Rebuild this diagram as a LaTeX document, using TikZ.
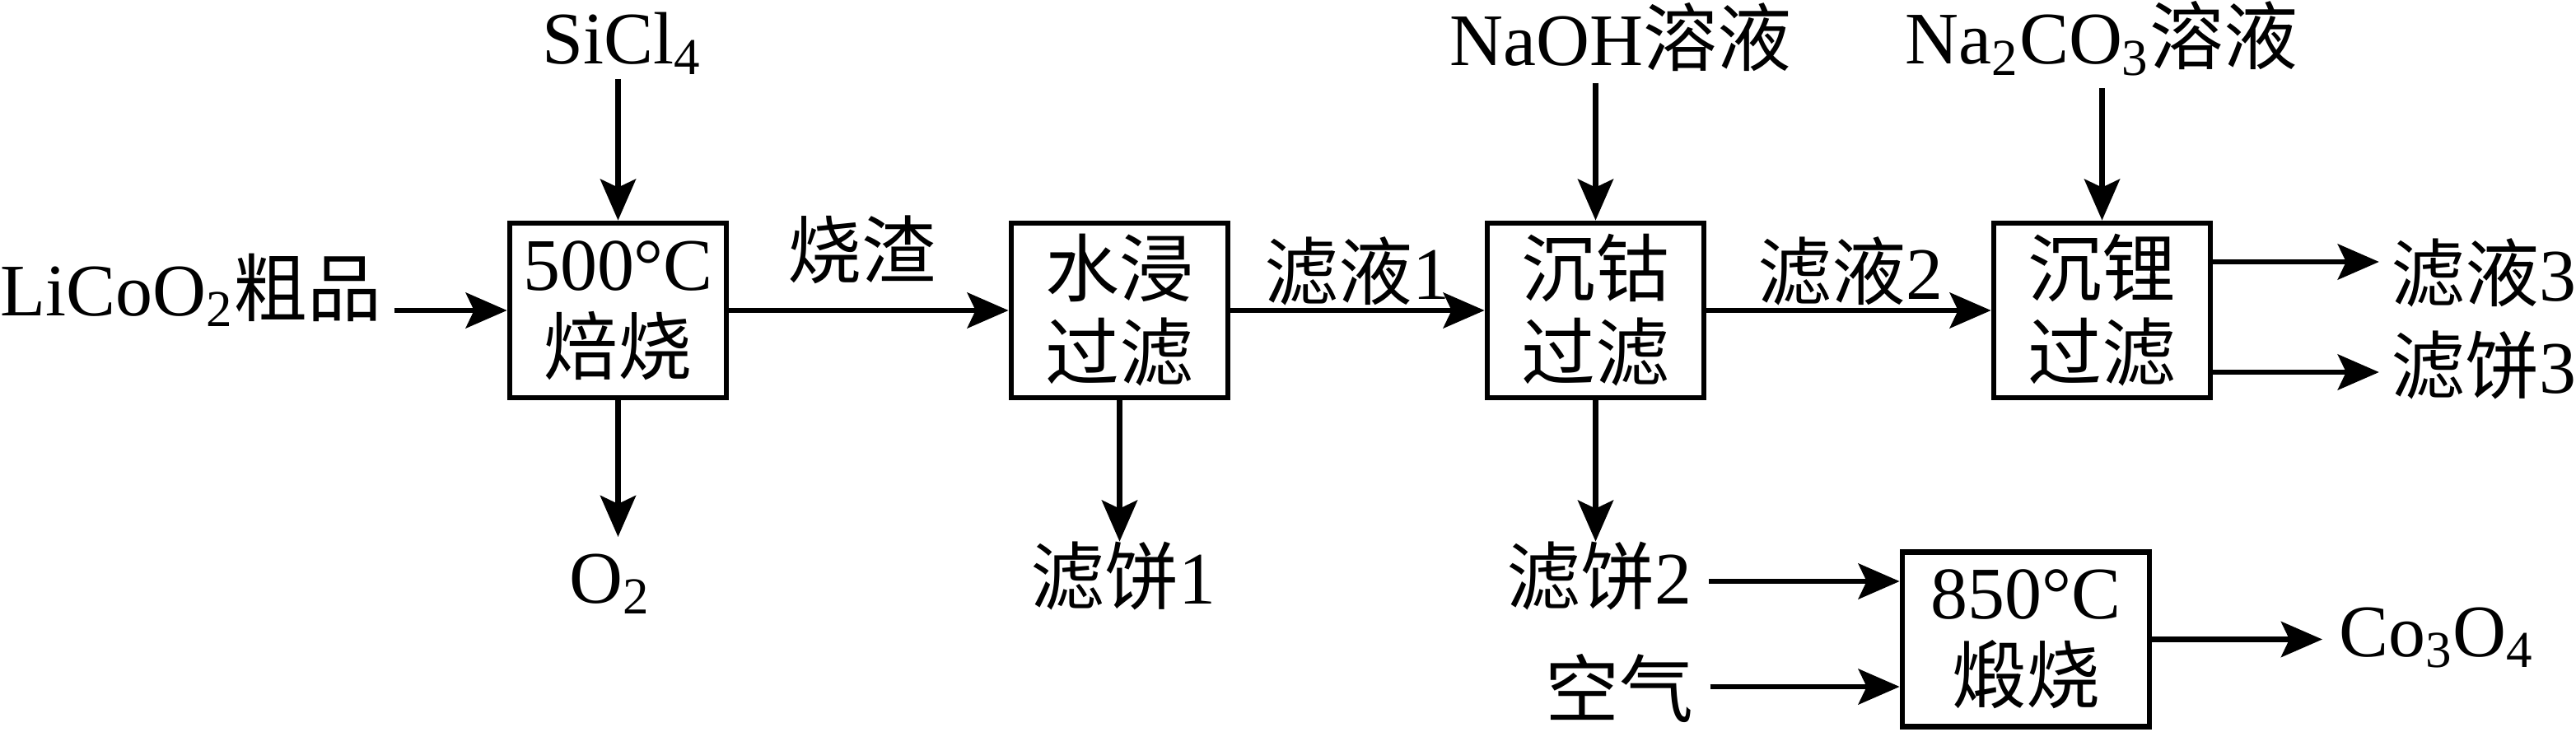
\documentclass[tikz,border=0pt]{standalone}
\usepackage{fontspec}
\setmainfont{Liberation Serif}
\newfontfamily\cjk{Noto Sans CJK SC}
\usetikzlibrary{arrows.meta}

\tikzset{
  unit/.style={draw, line width=1.9pt, minimum width=2.63cm, minimum height=2.12cm, align=center, inner sep=0pt,
    execute at begin node=\rule{0pt}{1.07em}},
  flow/.style={line width=1.9pt, -{Stealth[length=0.5cm, width=0.43cm, inset=0.1cm]}},
  tag/.style={inner sep=0pt}
}

\begin{document}
\begin{tikzpicture}[font=\fontsize{25.6}{29}\selectfont]
\useasboundingbox (0,0) rectangle (31.28,-8.89);

% process units
\node[unit] (roast) at (7.505,-3.77) {500°C\\{\cjk 焙烧}};
\node[unit] (leach) at (13.595,-3.77) {{\cjk 水浸}\\{\cjk 过滤}};
\node[unit] (cobalt) at (19.375,-3.77) {{\cjk 沉钴}\\{\cjk 过滤}};
\node[unit] (lithium) at (25.525,-3.77) {{\cjk 沉锂}\\{\cjk 过滤}};
\node[unit, minimum width=3cm] (calcine) at (24.6,-7.765) {850°C\\{\cjk 煅烧}};

% materials
\node[tag, anchor=base west] (raw) at (0,-3.83) {LiCoO\textsubscript{2}{\cjk 粗品}};
\node[tag, anchor=base] (sicl) at (7.55,-0.77) {SiCl\textsubscript{4}};
\node[tag, anchor=north] (o2) at (7.41,-6.72) {O\textsubscript{2}};
\node[tag] (slag) at (10.46,-3.03) {\cjk 烧渣};
\node[tag] (filt1) at (16.48,-3.29) {{\cjk 滤液}1};
\node[tag] (cake1) at (13.64,-7.00) {{\cjk 滤饼}1};
\node[tag, anchor=base] (naoh) at (19.68,-0.79) {NaOH{\cjk 溶液}};
\node[tag] (filt2) at (22.47,-3.29) {{\cjk 滤液}2};
\node[tag] (cake2) at (19.42,-7.00) {{\cjk 滤饼}2};
\node[tag] (air) at (19.66,-8.36) {\cjk 空气};
\node[tag, anchor=base] (soda) at (25.52,-0.78) {Na\textsubscript{2}CO\textsubscript{3}{\cjk 溶液}};
\node[tag] (filt3) at (30.16,-3.31) {{\cjk 滤液}3};
\node[tag] (cake3) at (30.16,-4.44) {{\cjk 滤饼}3};
\node[tag, anchor=base west] (product) at (28.40,-7.97) {Co\textsubscript{3}O\textsubscript{4}};

% flows
\draw[flow, shorten <=0.14cm] (raw.east |- roast.west) -- (roast.west);
\draw[flow, shorten <=0.05cm] (roast.north |- sicl.south) -- (roast.north);
\draw[flow, shorten >=0.2cm] (roast.south) -- (roast.south |- o2.north);
\draw[flow] (roast.east) -- (leach.west);
\draw[flow] (leach.south) -- (leach.south |- cake1.north);
\draw[flow] (leach.east) -- (cobalt.west);
\draw[flow, shorten <=0.14cm] (cobalt.north |- naoh.south) -- (cobalt.north);
\draw[flow] (cobalt.south) -- (cobalt.south |- cake2.north);
\draw[flow] (cobalt.east) -- (lithium.west);
\draw[flow, shorten <=0.15cm] (lithium.north |- soda.south) -- (lithium.north);
\draw[flow, shorten >=0.14cm] ([yshift=5.9mm]lithium.east) -- ([yshift=5.9mm]lithium.east -| filt3.west);
\draw[flow, shorten >=0.14cm] ([yshift=-7.5mm]lithium.east) -- ([yshift=-7.5mm]lithium.east -| cake3.west);
\draw[flow, shorten <=0.2cm] ([yshift=-0.6mm]cake2.east) -- ([yshift=-0.6mm]cake2.east -| calcine.west);
\draw[flow, shorten <=0.2cm] ([yshift=0.2mm]air.east) -- ([yshift=0.2mm]air.east -| calcine.west);
\draw[flow, shorten >=0.2cm] (calcine.east) -- (calcine.east -| product.west);

\end{tikzpicture}
\end{document}
